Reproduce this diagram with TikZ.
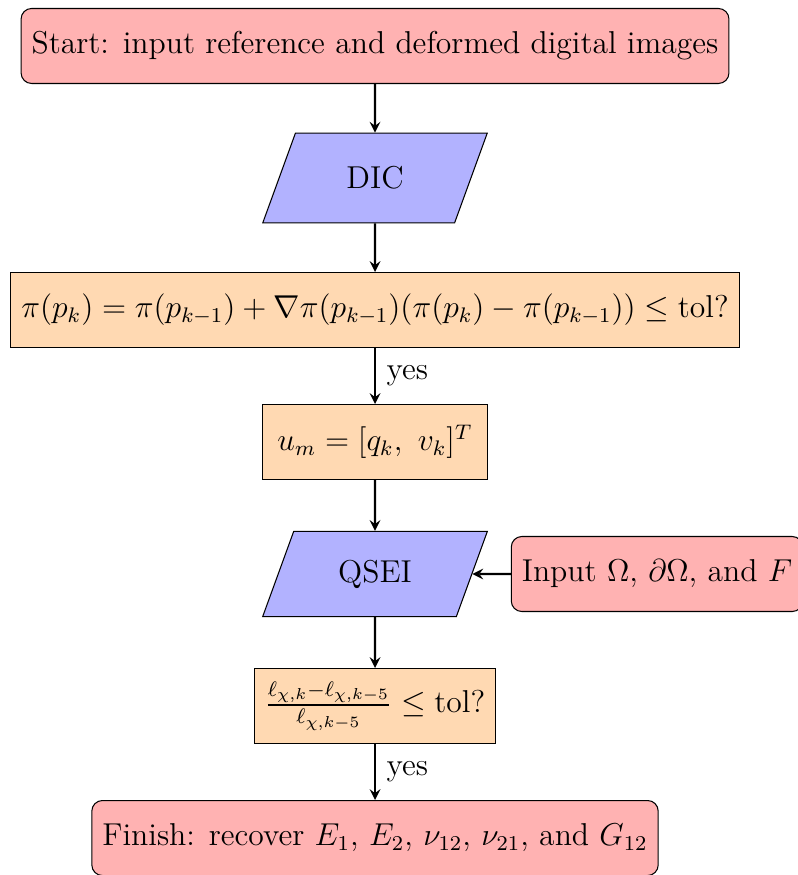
\documentclass[12pt,tikz,border=0pt]{standalone}
\usepackage{amsmath}
\usepackage{amssymb}
\usepackage{tikz}
\usetikzlibrary{arrows,positioning,shapes,calc}
\tikzset{
  start stop/.style={
    rectangle,
    rounded corners,
    minimum width=3cm,
    minimum height=1cm,
    draw=black,
    fill=red!30
  },
  io/.style={
    trapezium,
    trapezium left angle=70,
    trapezium right angle=110,
    minimum width=3cm,
    minimum height=1cm,
    draw=black,
    fill=blue!30
  },
  process/.style={
    rectangle,
    minimum width=3cm,
    minimum height=1cm,
    draw=black,
    fill=orange!30
  }
}

\begin{document}
\begin{tikzpicture}[%
        >=stealth,
        auto,
        on grid,
        node distance=1.76cm and 3.76cm]
      \useasboundingbox (-5.0,0.613) rectangle (5.627,-11.053);
      \node[start stop] (start)                    {Start: input reference and deformed digital images};
      \node[io]         (dic)     [below=of start] {DIC};
      \node[process]    (pi_tol)  [below=of dic]   {$\pi(p_k) = \pi(p_{k-1}) + \nabla\pi(p_{k-1})(\pi(p_k) - \pi(p_{k-1})) \leq \text{tol?}$};
      \node[process]    (u_m)     [below=of pi_tol] {$u_m = [q_k,\ v_k]^T$};
      \node[io]         (qsei)    [below=of u_m]   {QSEI};
      \node[start stop] (input)   [right=of qsei]  {Input $\Omega$, $\partial\Omega$, and $F$};
      \node[process]    (ell_tol) [below=of qsei]  {$\frac{\ell_{\chi,k}-\ell_{\chi,k-5}}{\ell_{\chi,k-5}} \leq \text{tol?}$};
      \node[start stop] (finish)  [below=of ell_tol] {Finish: recover $E_1$, $E_2$, $\nu_{12}$, $\nu_{21}$, and $G_{12}$};
      \path[->,thick] (start)   edge            (dic)
                      (dic)     edge            (pi_tol)
                      (pi_tol)  edge node {yes} (u_m)
                      (u_m)     edge            (qsei)
                      (input)   edge            (qsei)
                      (qsei)    edge            (ell_tol)
                      (ell_tol) edge node {yes} (finish);
    \end{tikzpicture}
\end{document}
